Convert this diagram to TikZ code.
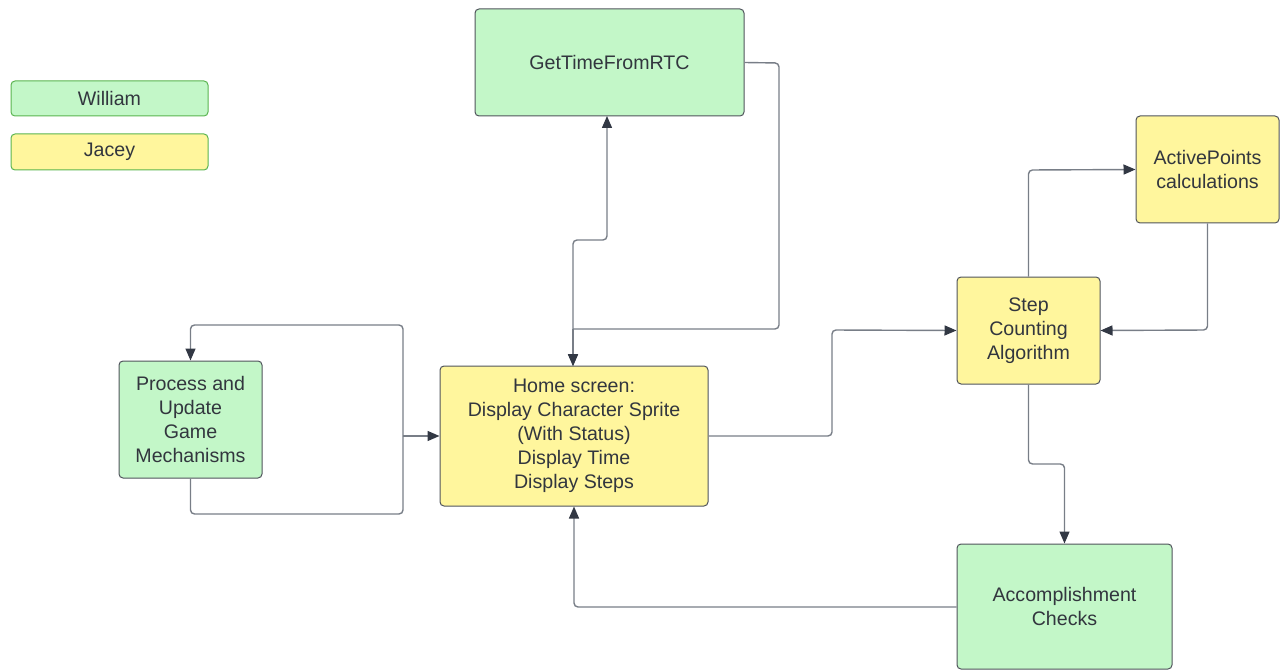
\documentclass[tikz,border=0pt]{standalone}
\usepackage{fontspec}
\setmainfont{Liberation Sans}
\usetikzlibrary{arrows.meta}
\definecolor{gfill}{RGB}{195,247,200}
\definecolor{yfill}{RGB}{255,246,157}
\definecolor{boxline}{RGB}{80,84,92}
\definecolor{legline}{RGB}{90,180,80}
\definecolor{conn}{RGB}{120,126,135}
\definecolor{tipc}{RGB}{50,56,68}
\definecolor{txt}{RGB}{50,54,62}
\begin{document}
\begin{tikzpicture}[x=1pt,y=-1pt,
  box/.style={draw=boxline,line width=1pt,rounded corners=4pt,align=center,text=txt,
    font=\fontsize{19.6}{24}\selectfont,inner sep=0pt},
  gbox/.style={box,fill=gfill},
  ybox/.style={box,fill=yfill},
  leg/.style={draw=legline,line width=1pt,rounded corners=4pt,text=txt,
    font=\fontsize{19.6}{24}\selectfont,inner sep=0pt},
  conn/.style={draw=conn,line width=1.4pt,rounded corners=4pt,
    -{Triangle[length=12pt,width=10pt,color=tipc]}},
  bconn/.style={conn,{Triangle[length=12pt,width=10pt,color=tipc]}-{Triangle[length=12pt,width=10pt,color=tipc]}},
  plain/.style={draw=conn,line width=1.4pt,rounded corners=4pt}
]
\useasboundingbox (0,0) rectangle (1285,671);
% legend
\node[leg,fill=gfill,minimum width=197pt,minimum height=35pt] (will) at (109.5,98.5) {William};
\node[leg,fill=yfill,minimum width=197pt,minimum height=36pt] (jac) at (109.5,152) {Jacey};
% nodes
\node[gbox,minimum width=269pt,minimum height=107pt] (rtc) at (609.5,62.5) {GetTimeFromRTC};
\node[gbox,minimum width=143pt,minimum height=117pt] (proc) at (190.5,419.5) {Process and\\Update\\Game\\Mechanisms};
\node[ybox,minimum width=268pt,minimum height=140pt] (home) at (574,436) {Home screen:\\Display Character Sprite\\(With Status)\\Display Time\\Display Steps};
\node[ybox,minimum width=143pt,minimum height=107pt] (step) at (1028.5,330.5) {Step\\Counting\\Algorithm};
\node[ybox,minimum width=143pt,minimum height=107pt] (ap) at (1207.5,169.5) {ActivePoints\\calculations};
\node[gbox,minimum width=215pt,minimum height=125pt] (acc) at (1064.5,606.5) {Accomplishment\\Checks};
% junction coordinates
\coordinate (jl) at (403,436);
\coordinate (jt) at (573,329);
% connectors
\draw[bconn] (573,366) -- (573,240) -- (607,240) -- (607,116);
\draw[plain] (rtc.east) -- (779,63) -- (779,329) -- (jt);
\draw[conn] (jt) -- (573,366);
\draw[conn] (home.east) -- (832,436) -- (832,330) -- (step.west);
\draw[conn] (step.north) -- (1028.5,170) -- (ap.west);
\draw[conn] (ap.south) -- (1207.5,330) -- (step.east);
\draw[conn] (step.south) -- (1028.5,464) -- (1064.5,464) -- (acc.north);
\draw[conn] (acc.west |- 0,607) -- (574,607) -- (home.south);
\draw[plain] (proc.south) -- (190.5,514) -- (403,514) -- (jl);
\draw[conn] (jl) -- (home.west);
\draw[conn] (jl) -- (403,325) -- (190.5,325) -- (proc.north);
\end{tikzpicture}
\end{document}
